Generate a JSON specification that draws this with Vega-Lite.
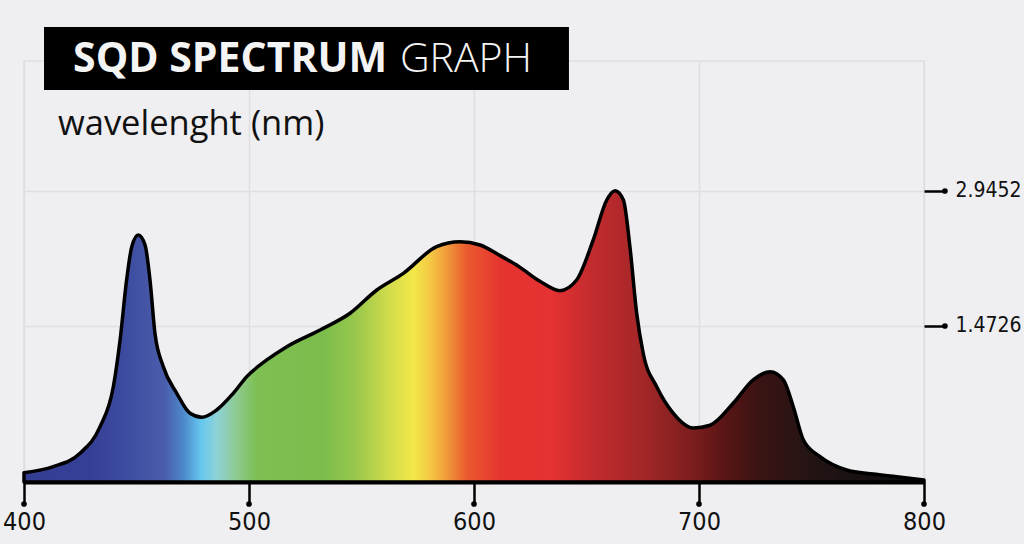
{
  "$schema": "https://vega.github.io/schema/vega-lite/v6.json",
  "width": 900,
  "height": 421,
  "autosize": {"type": "none"},
  "padding": {"left": 24, "top": 61, "right": 100, "bottom": 62},
  "background": "#efeff1",
  "config": {
    "view": {"stroke": "#dfdfe1", "strokeWidth": 1.5},
    "axis": {
      "gridColor": "#dfdfe1",
      "gridWidth": 1.5,
      "labelFont": "DejaVu Sans Condensed, Liberation Sans Narrow, Roboto",
      "labelColor": "#111111",
      "tickColor": "black",
      "tickWidth": 2.5
    }
  },
  "datasets": {
    "spectrum": [
      {"nm": 400, "v": -0.128},
      {"nm": 413.0, "v": -0.062},
      {"nm": 424.9, "v": 0.084},
      {"nm": 433.8, "v": 0.374},
      {"nm": 439.7, "v": 0.81},
      {"nm": 442.7, "v": 1.32},
      {"nm": 445.6, "v": 1.974},
      {"nm": 447.9, "v": 2.338},
      {"nm": 450.8, "v": 2.465},
      {"nm": 453.8, "v": 2.356},
      {"nm": 456.0, "v": 1.974},
      {"nm": 458.2, "v": 1.393},
      {"nm": 461.9, "v": 1.029},
      {"nm": 467.9, "v": 0.738},
      {"nm": 473.8, "v": 0.52},
      {"nm": 479.0, "v": 0.477},
      {"nm": 485.6, "v": 0.556},
      {"nm": 493.0, "v": 0.738},
      {"nm": 499.0, "v": 0.92},
      {"nm": 507.9, "v": 1.102},
      {"nm": 516.8, "v": 1.247},
      {"nm": 531.6, "v": 1.429},
      {"nm": 544.9, "v": 1.611},
      {"nm": 556.8, "v": 1.865},
      {"nm": 568.6, "v": 2.047},
      {"nm": 583.4, "v": 2.338},
      {"nm": 593.8, "v": 2.392},
      {"nm": 602.7, "v": 2.356},
      {"nm": 611.6, "v": 2.24},
      {"nm": 620.0, "v": 2.12},
      {"nm": 629.3, "v": 1.96},
      {"nm": 638.2, "v": 1.858},
      {"nm": 645.6, "v": 1.974},
      {"nm": 653.0, "v": 2.411},
      {"nm": 659.0, "v": 2.847},
      {"nm": 662.7, "v": 2.948},
      {"nm": 666.4, "v": 2.847},
      {"nm": 669.3, "v": 2.338},
      {"nm": 672.3, "v": 1.611},
      {"nm": 675.2, "v": 1.175},
      {"nm": 681.2, "v": 0.81},
      {"nm": 688.6, "v": 0.52},
      {"nm": 697.5, "v": 0.36},
      {"nm": 704.9, "v": 0.39},
      {"nm": 715.2, "v": 0.629},
      {"nm": 724.1, "v": 0.884},
      {"nm": 731.6, "v": 0.974},
      {"nm": 737.5, "v": 0.884},
      {"nm": 741.9, "v": 0.592},
      {"nm": 746.4, "v": 0.229},
      {"nm": 753.8, "v": 0.047},
      {"nm": 765.6, "v": -0.098},
      {"nm": 777.5, "v": -0.142},
      {"nm": 787.9, "v": -0.171},
      {"nm": 800, "v": -0.207}
    ],
    "xticks": [{"nm": 400}, {"nm": 500}, {"nm": 600}, {"nm": 700}, {"nm": 800}],
    "yticks": [{"v": 1.4726}, {"v": 2.9452}]
  },
  "layer": [
    {
      "data": {"name": "spectrum"},
      "mark": {
        "type": "area",
        "interpolate": "monotone",
        "stroke": "black",
        "strokeWidth": 3.5,
        "strokeJoin": "round",
        "fill": {
          "gradient": "linear",
          "x1": 0, "y1": 0, "x2": 1, "y2": 0,
          "stops": [
            {"offset": 0, "color": "#343f94"},
            {"offset": 0.074, "color": "#363f96"},
            {"offset": 0.111, "color": "#3c4b9f"},
            {"offset": 0.156, "color": "#4a5dab"},
            {"offset": 0.178, "color": "#4e8acd"},
            {"offset": 0.197, "color": "#66c8ef"},
            {"offset": 0.214, "color": "#8ed2d8"},
            {"offset": 0.237, "color": "#8ec98d"},
            {"offset": 0.259, "color": "#7dbf52"},
            {"offset": 0.333, "color": "#7bbd4c"},
            {"offset": 0.37, "color": "#9ac84c"},
            {"offset": 0.408, "color": "#d4dd4a"},
            {"offset": 0.433, "color": "#f2e84a"},
            {"offset": 0.452, "color": "#f5c644"},
            {"offset": 0.47, "color": "#f09a3a"},
            {"offset": 0.492, "color": "#ea5a2f"},
            {"offset": 0.53, "color": "#e63430"},
            {"offset": 0.586, "color": "#e53232"},
            {"offset": 0.63, "color": "#c42b2e"},
            {"offset": 0.686, "color": "#a42728"},
            {"offset": 0.741, "color": "#7d1e1e"},
            {"offset": 0.778, "color": "#5a1515"},
            {"offset": 0.814, "color": "#3c1313"},
            {"offset": 0.87, "color": "#251414"},
            {"offset": 0.944, "color": "#141010"},
            {"offset": 1, "color": "#0d0d0d"}
          ]
        }
      },
      "encoding": {
        "x": {
          "field": "nm",
          "type": "quantitative",
          "title": null,
          "scale": {"domain": [400, 800], "nice": false, "zero": false},
          "axis": {
            "values": [400, 500, 600, 700, 800],
            "grid": true,
            "domainColor": "black",
            "domainWidth": 4,
            "tickSize": 22,
            "labelPadding": 5,
            "labelFontSize": 25,
            "labelFlush": false
          }
        },
        "y": {
          "field": "v",
          "type": "quantitative",
          "title": null,
          "scale": {"domain": [-0.2294, 4.363], "nice": false, "zero": false},
          "axis": {
            "orient": "right",
            "values": [1.4726, 2.9452],
            "format": ".4f",
            "grid": true,
            "domain": false,
            "tickSize": 21,
            "labelPadding": 10,
            "labelFontSize": 21
          }
        },
        "y2": {"datum": -0.2294}
      }
    },
    {
      "data": {"name": "xticks"},
      "mark": {"type": "point", "filled": true, "color": "black", "size": 32, "opacity": 1, "clip": false},
      "encoding": {
        "x": {"field": "nm", "type": "quantitative", "title": null},
        "y": {"datum": -0.469, "type": "quantitative", "title": null}
      }
    },
    {
      "data": {"name": "yticks"},
      "mark": {"type": "point", "filled": true, "color": "black", "size": 32, "opacity": 1, "clip": false},
      "encoding": {
        "x": {"datum": 809.3, "type": "quantitative", "title": null},
        "y": {"field": "v", "type": "quantitative", "title": null}
      }
    },
    {
      "data": {"values": [{}]},
      "mark": {"type": "rect", "color": "black", "clip": false},
      "encoding": {
        "x": {"datum": 408.9, "type": "quantitative", "title": null},
        "x2": {"datum": 642.2},
        "y": {"datum": 4.734, "type": "quantitative", "title": null},
        "y2": {"datum": 4.047}
      }
    },
    {
      "data": {"values": [{"t": "SQD SPECTRUM"}]},
      "mark": {"type": "text", "align": "left", "baseline": "alphabetic", "font": "Open Sans", "fontWeight": "bold", "fontSize": 41, "color": "#f4f4f4", "clip": false},
      "encoding": {
        "x": {"datum": 421.8, "type": "quantitative", "title": null},
        "y": {"datum": 4.243, "type": "quantitative", "title": null},
        "text": {"field": "t"}
      }
    },
    {
      "data": {"values": [{"t": "GRAPH"}]},
      "mark": {"type": "text", "align": "left", "baseline": "alphabetic", "font": "Open Sans", "fontWeight": 300, "fontSize": 41, "color": "#f4f4f4", "clip": false},
      "encoding": {
        "x": {"datum": 567.1, "type": "quantitative", "title": null},
        "y": {"datum": 4.243, "type": "quantitative", "title": null},
        "text": {"field": "t"}
      }
    },
    {
      "data": {"values": [{"t": "wavelenght (nm)"}]},
      "mark": {"type": "text", "align": "left", "baseline": "alphabetic", "font": "Open Sans", "fontSize": 34.5, "color": "#111111", "clip": false},
      "encoding": {
        "x": {"datum": 415.1, "type": "quantitative", "title": null},
        "y": {"datum": 3.556, "type": "quantitative", "title": null},
        "text": {"field": "t"}
      }
    }
  ]
}
